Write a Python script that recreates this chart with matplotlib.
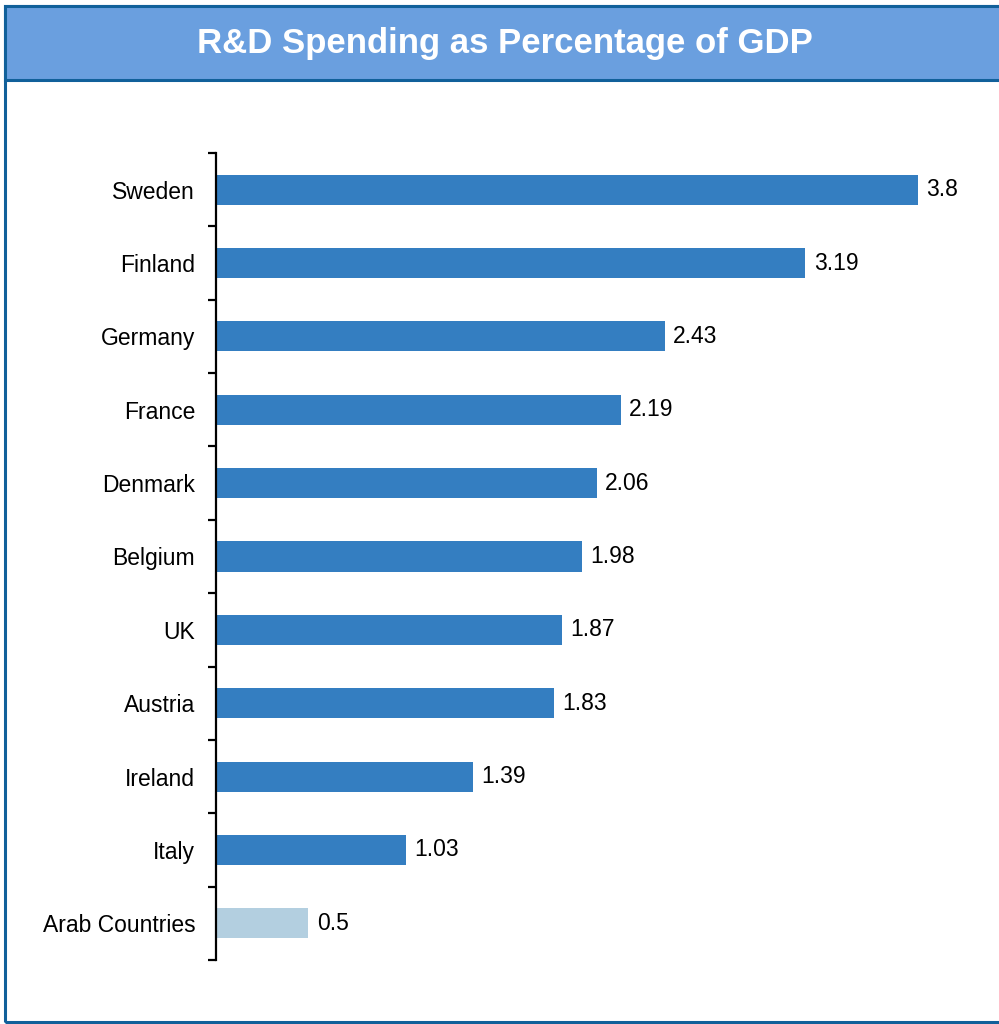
import matplotlib.pyplot as plt
from matplotlib.patches import Rectangle
import numpy as np

plt.rcParams['font.family'] = ['Liberation Sans', 'DejaVu Sans']

countries = ['Sweden', 'Finland', 'Germany', 'France', 'Denmark', 'Belgium',
             'UK', 'Austria', 'Ireland', 'Italy', 'Arab Countries']
values = [3.8, 3.19, 2.43, 2.19, 2.06, 1.98, 1.87, 1.83, 1.39, 1.03, 0.5]
value_labels = ['3.8', '3.19', '2.43', '2.19', '2.06', '1.98', '1.87', '1.83', '1.39', '1.03', '0.5']

bar_color = '#347EC1'
arab_color = '#B3CFE0'
border = '#11609A'
colors = [arab_color if c == 'Arab Countries' else bar_color for c in countries]

W, H = 999, 1024
fig = plt.figure(figsize=(W / 100, H / 100), dpi=100)

# outer frame (open on the right side) and title bar
fig.patches.append(Rectangle((5 / W, 2 / H), (W + 20) / W, (H - 8) / H,
                             transform=fig.transFigure, facecolor='none',
                             edgecolor=border, linewidth=2.2, zorder=1))
fig.patches.append(Rectangle((5 / W, (H - 80) / H), (W + 20) / W, 74 / H,
                             transform=fig.transFigure, facecolor='#6A9FDF',
                             edgecolor=border, linewidth=2.2, zorder=1))
fig.text(0.505, (H - 44) / H, 'R&D Spending as Percentage of GDP', color='white',
         fontsize=25, fontweight='bold', ha='center', va='center')

ax = fig.add_axes([216 / W, 64 / H, 776 / W, 807 / H])
ax.set_facecolor('none')

y = np.arange(len(countries))
ax.barh(y, values, height=0.41, color=colors)
for yi, v, lab in zip(y, values, value_labels):
    ax.text(v + 0.045, yi, lab, va='center', ha='left', fontsize=16.5)

ax.set_xlim(0, 4.2)
ax.set_ylim(len(countries) - 0.5, -0.5)

# ticks between categories, labels at categories
ax.set_yticks(np.arange(-0.5, len(countries), 1.0))
ax.set_yticklabels([])
ax.set_yticks(y, minor=True)
ax.set_yticklabels(countries, minor=True, fontsize=16.5)
ax.tick_params(axis='y', which='major', direction='out', length=6, width=1.6)
ax.tick_params(axis='y', which='minor', length=0, pad=15)
ax.set_xticks([])

for side in ['top', 'right', 'bottom']:
    ax.spines[side].set_visible(False)
ax.spines['left'].set_linewidth(1.6)

fig.savefig('out.png', dpi=100)
